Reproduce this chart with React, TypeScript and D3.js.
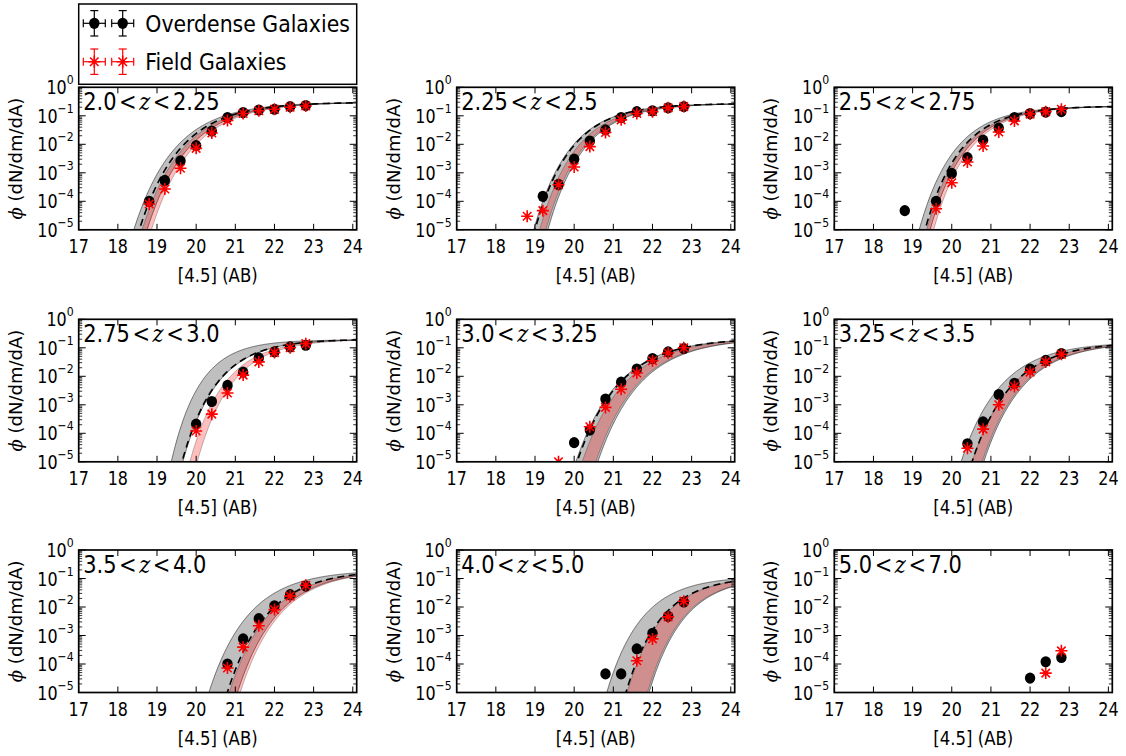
import React from 'react';
import * as d3 from 'd3';

const W = 1126;
const H = 756;

// Magnitude bins shared by every redshift slice
const magBins = [18.8, 19.2, 19.6, 20.0, 20.4, 20.8, 21.2, 21.6, 22.0, 22.4, 22.8];

const zRanges: [string, string][] = [
  ['2.0', '2.25'], ['2.25', '2.5'], ['2.5', '2.75'],
  ['2.75', '3.0'], ['3.0', '3.25'], ['3.25', '3.5'],
  ['3.5', '4.0'], ['4.0', '5.0'], ['5.0', '7.0'],
];

const N = null;
// Number counts, overdense galaxies (one row per redshift slice)
const overdensePhi: (number | null)[][] = [
  [1.0e-4, 5.4e-4, 2.6e-3, 9.0e-3, 0.029, 0.087, 0.13, 0.16, 0.17, 0.21, 0.23],
  [N, 1.5e-4, 3.9e-4, 3.0e-3, 0.013, 0.032, 0.087, 0.14, 0.15, 0.19, 0.21],
  [4.7e-5, N, 1.0e-4, 9.5e-4, 3.4e-3, 0.014, 0.037, 0.087, 0.12, 0.135, 0.14],
  [N, N, N, 2.1e-4, 1.3e-3, 4.8e-3, 0.014, 0.044, 0.072, 0.107, 0.123],
  [N, N, N, 4.7e-5, 1.3e-4, 1.6e-3, 6.2e-3, 0.018, 0.042, 0.072, 0.094],
  [N, N, N, N, 4.3e-5, 2.5e-4, 2.3e-3, 5.7e-3, 0.018, 0.036, 0.063],
  [N, N, N, N, N, 1.0e-4, 7.6e-4, 3.9e-3, 0.011, 0.027, 0.054],
  [N, N, N, N, N, 4.5e-5, 4.5e-5, 3.4e-4, 1.2e-3, 4.7e-3, 0.015],
  [N, N, N, N, N, N, N, N, 3.2e-5, 1.2e-4, 1.7e-4],
];

// Number counts, field galaxies
const fieldPhi: (number | null)[][] = [
  [8.0e-5, 2.7e-4, 1.45e-3, 7.2e-3, 0.025, 0.068, 0.12, 0.15, 0.17, 0.20, 0.22],
  [3.0e-5, 4.7e-5, 3.8e-4, 1.6e-3, 8.3e-3, 0.026, 0.072, 0.12, 0.14, 0.19, 0.21],
  [N, N, 5.5e-5, 4.5e-4, 2.4e-3, 8.7e-3, 0.027, 0.066, 0.115, 0.14, 0.17],
  [N, N, N, 1.2e-4, 4.7e-4, 2.6e-3, 0.011, 0.032, 0.068, 0.10, 0.14],
  [N, N, 1.0e-5, N, 1.7e-4, 8.1e-4, 3.5e-3, 0.013, 0.035, 0.066, 0.10],
  [N, N, N, N, 3.0e-5, 1.4e-4, 1.0e-3, 4.4e-3, 0.014, 0.032, 0.059],
  [N, N, N, N, N, 7.2e-5, 3.9e-4, 2.2e-3, 8.1e-3, 0.024, 0.058],
  [N, N, N, N, N, N, N, 1.3e-4, 7.6e-4, 4.5e-3, 0.016],
  [N, N, N, N, N, N, N, N, N, 4.8e-5, 2.9e-4],
];

// Fit parameters: [amplitude, characteristic magnitude m*, steepness]
type Fit = [number, number, number];

const bestFit: (Fit | null)[] = [
  [0.3, 20.96, 1.05],
  [0.27, 21.10, 1.2],
  [0.22, 21.35, 1.23],
  [0.2, 21.63, 1.25],
  [0.22, 22.55, 1.01],
  [0.16, 22.80, 1.08],
  [0.2, 23.10, 1.08],
  [0.12, 23.30, 1.23],
  null,
];

// Confidence envelopes: [bright edge, faint edge]
const overdenseBand: ([Fit, Fit] | null)[] = [
  [[0.3, 20.82, 1.05], [0.3, 21.16, 1.05]],
  [[0.27, 21.07, 1.2], [0.27, 21.43, 1.2]],
  [[0.22, 21.20, 1.23], [0.22, 21.48, 1.23]],
  [[0.19, 21.02, 1.5], [0.2, 21.65, 1.25]],
  [[0.22, 22.52, 1.01], [0.22, 23.08, 1.01]],
  [[0.16, 22.52, 1.08], [0.16, 23.10, 1.08]],
  [[0.2, 22.63, 1.08], [0.2, 23.36, 1.08]],
  [[0.12, 22.81, 1.23], [0.12, 23.89, 1.23]],
  null,
];

const fieldBand: ([Fit, Fit] | null)[] = [
  [[0.3, 21.03, 1.05], [0.3, 21.27, 1.05]],
  [[0.27, 21.22, 1.2], [0.27, 21.38, 1.2]],
  [[0.22, 21.39, 1.23], [0.22, 21.57, 1.23]],
  [[0.2, 21.83, 1.25], [0.2, 22.02, 1.25]],
  [[0.22, 22.68, 1.01], [0.22, 23.03, 1.01]],
  [[0.16, 22.80, 1.08], [0.16, 23.06, 1.08]],
  [[0.2, 23.15, 1.08], [0.2, 23.43, 1.08]],
  [[0.12, 23.33, 1.23], [0.12, 23.85, 1.23]],
  null,
];

const xTicks = [17, 18, 19, 20, 21, 22, 23, 24];
const yExponents = [0, -1, -2, -3, -4, -5];
const legendLabels = ['Overdense Galaxies', 'Field Galaxies'];

const FONT = "'DejaVu Sans', sans-serif";
const SERIF = "'DejaVu Serif', serif";
// glyphs in this figure are set slightly narrow
const NARROW = 0.84;

const colLeft = [78.7, 456.7, 834.3];
const rowTop = [87.3, 319.3, 550];
const PW = 278;
const PH = 142.5;

function schechter(fit: Fit, m: number): number {
  const [amp, mStar, beta] = fit;
  const v = amp * Math.exp(-Math.pow(10, 0.4 * beta * (mStar - m)));
  return Math.max(v, 1e-12);
}

const fitGrid = d3.range(17, 24.105, 0.01);

function asteriskPath(r: number) {
  const d = r * Math.SQRT1_2;
  return `M${-r},0L${r},0M0,${-r}L0,${r}M${-d},${-d}L${d},${d}M${-d},${d}L${d},${-d}`;
}

function SText({
  x,
  y,
  size,
  anchor = 'start',
  sx = NARROW,
  children,
}: {
  x: number;
  y: number;
  size: number;
  anchor?: string;
  sx?: number;
  children: React.ReactNode;
}) {
  return (
    <text
      transform={`translate(${x},${y}) scale(${sx},1)`}
      fontSize={size}
      fontFamily={FONT}
      textAnchor={anchor}
      fill="#000"
    >
      {children}
    </text>
  );
}

function Panel({ idx }: { idx: number }) {
  const left = colLeft[idx % 3];
  const top = rowTop[Math.floor(idx / 3)];
  const x = d3.scaleLinear().domain([17, 24.1]).range([0, PW]);
  const y = d3.scaleLog().domain([1e-5, 1]).range([PH, 0]);
  const clipId = `clip-${idx}`;

  const line = (fit: Fit) =>
    d3.line<number>().x((m) => x(m)).y((m) => y(schechter(fit, m)))(fitGrid) || '';
  const area = (band: [Fit, Fit]) =>
    d3
      .area<number>()
      .x((m) => x(m))
      .y0((m) => y(schechter(band[1], m)))
      .y1((m) => y(schechter(band[0], m)))(fitGrid) || '';

  const minor: number[] = [];
  for (let k = -5; k < 0; k++) for (let j = 2; j <= 9; j++) minor.push(j * Math.pow(10, k));

  const gBand = overdenseBand[idx];
  const fBand = fieldBand[idx];
  const fit = bestFit[idx];
  const [zLo, zHi] = zRanges[idx];

  return (
    <g transform={`translate(${left},${top})`}>
      <defs>
        <clipPath id={clipId}>
          <rect x={0} y={0} width={PW} height={PH} />
        </clipPath>
      </defs>
      <g clipPath={`url(#${clipId})`}>
        {gBand && (
          <g>
            <path d={area(gBand)} fill="#808080" fillOpacity={0.5} />
            <path d={line(gBand[0])} fill="none" stroke="#000" strokeOpacity={0.5} strokeWidth={1} />
            <path d={line(gBand[1])} fill="none" stroke="#000" strokeOpacity={0.5} strokeWidth={1} />
          </g>
        )}
        {fBand && (
          <g>
            <path d={area(fBand)} fill="#ff0000" fillOpacity={0.25} />
            <path d={line(fBand[0])} fill="none" stroke="#000" strokeOpacity={0.25} strokeWidth={1} />
            <path d={line(fBand[1])} fill="none" stroke="#000" strokeOpacity={0.25} strokeWidth={1} />
          </g>
        )}
        {fit && (
          <path d={line(fit)} fill="none" stroke="#000" strokeWidth={1.6} strokeDasharray="7,4.5" />
        )}
        {overdensePhi[idx].map((v, i) =>
          v == null ? null : (
            <ellipse key={`o${i}`} cx={x(magBins[i])} cy={y(v)} rx={5.2} ry={5.6} fill="#000" />
          )
        )}
        {fieldPhi[idx].map((v, i) =>
          v == null ? null : (
            <path
              key={`f${i}`}
              transform={`translate(${x(magBins[i])},${y(v)})`}
              d={asteriskPath(6)}
              stroke="#ff0000"
              strokeWidth={1.6}
              fill="none"
            />
          )
        )}
      </g>

      {/* ticks */}
      {xTicks.map((t) => (
        <g key={`xt${t}`}>
          <line x1={x(t)} x2={x(t)} y1={PH} y2={PH - 6} stroke="#000" strokeWidth={1} />
          <line x1={x(t)} x2={x(t)} y1={0} y2={6} stroke="#000" strokeWidth={1} />
          <SText x={x(t)} y={PH + 23} size={19} anchor="middle">
            {t}
          </SText>
        </g>
      ))}
      {yExponents.map((e) => {
        const yy = y(Math.pow(10, e));
        return (
          <g key={`yt${e}`}>
            <line x1={0} x2={7} y1={yy} y2={yy} stroke="#000" strokeWidth={1} />
            <line x1={PW} x2={PW - 7} y1={yy} y2={yy} stroke="#000" strokeWidth={1} />
            <SText x={-5} y={yy + 7} size={19} anchor="end">
              10
              <tspan dy={-10} fontSize={13}>
                {e === 0 ? '0' : `\u2212${-e}`}
              </tspan>
            </SText>
          </g>
        );
      })}
      {minor.map((v, i) => (
        <g key={`mn${i}`}>
          <line x1={0} x2={3.5} y1={y(v)} y2={y(v)} stroke="#000" strokeWidth={0.8} />
          <line x1={PW} x2={PW - 3.5} y1={y(v)} y2={y(v)} stroke="#000" strokeWidth={0.8} />
        </g>
      ))}

      <rect x={0} y={0} width={PW} height={PH} fill="none" stroke="#000" strokeWidth={1.7} />

      <SText x={4.5} y={23} size={25}>
        {zLo}
        <tspan fontFamily={SERIF} dx={3}>&lt;</tspan>
        <tspan fontFamily={SERIF} fontStyle="italic" dx={3}>z</tspan>
        <tspan fontFamily={SERIF} dx={3}>&lt;</tspan>
        <tspan dx={3}>{zHi}</tspan>
      </SText>

      <SText x={PW / 2} y={PH + 52} size={19} anchor="middle" sx={0.87}>
        [4.5] (AB)
      </SText>
      <text
        transform={`translate(${-57},${PH / 2}) rotate(-90)`}
        textAnchor="middle"
        fontSize={18}
        fontFamily={FONT}
      >
        <tspan fontFamily={SERIF} fontStyle="italic">ϕ</tspan> (dN/dm/dA)
      </text>
    </g>
  );
}

function LegendMarker({ cx, cy, kind }: { cx: number; cy: number; kind: 'o' | 'f' }) {
  const col = kind === 'o' ? '#000' : '#ff0000';
  const hx = 11;
  const hy = 12.7;
  const cap = 4;
  return (
    <g stroke={col} strokeWidth={1.2} fill="none">
      <line x1={cx - hx} x2={cx + hx} y1={cy} y2={cy} />
      <line x1={cx} x2={cx} y1={cy - hy} y2={cy + hy} />
      <line x1={cx - hx} x2={cx - hx} y1={cy - cap} y2={cy + cap} />
      <line x1={cx + hx} x2={cx + hx} y1={cy - cap} y2={cy + cap} />
      <line x1={cx - cap} x2={cx + cap} y1={cy - hy} y2={cy - hy} />
      <line x1={cx - cap} x2={cx + cap} y1={cy + hy} y2={cy + hy} />
      {kind === 'o' ? (
        <ellipse cx={cx} cy={cy} rx={5.2} ry={5.6} fill="#000" stroke="none" />
      ) : (
        <path transform={`translate(${cx},${cy})`} d={asteriskPath(6)} strokeWidth={1.6} />
      )}
    </g>
  );
}

export default function App() {
  const rows = [23.3, 61.7];
  return (
    <svg
      width={W}
      height={H}
      style={{ position: 'absolute', left: 0, top: 0, background: '#fff' }}
    >
      <rect x={0} y={0} width={W} height={H} fill="#fff" />
      {zRanges.map((_, i) => (
        <Panel key={i} idx={i} />
      ))}
      <g>
        <rect x={78.7} y={4} width={278} height={80.3} fill="#fff" stroke="#000" strokeWidth={1.5} />
        {legendLabels.map((lab, i) => (
          <g key={lab}>
            <LegendMarker cx={94.3} cy={rows[i]} kind={i === 0 ? 'o' : 'f'} />
            <LegendMarker cx={122.7} cy={rows[i]} kind={i === 0 ? 'o' : 'f'} />
            <SText x={145.3} y={rows[i] + 8.5} size={23.5} sx={0.87}>
              {lab}
            </SText>
          </g>
        ))}
      </g>
    </svg>
  );
}
